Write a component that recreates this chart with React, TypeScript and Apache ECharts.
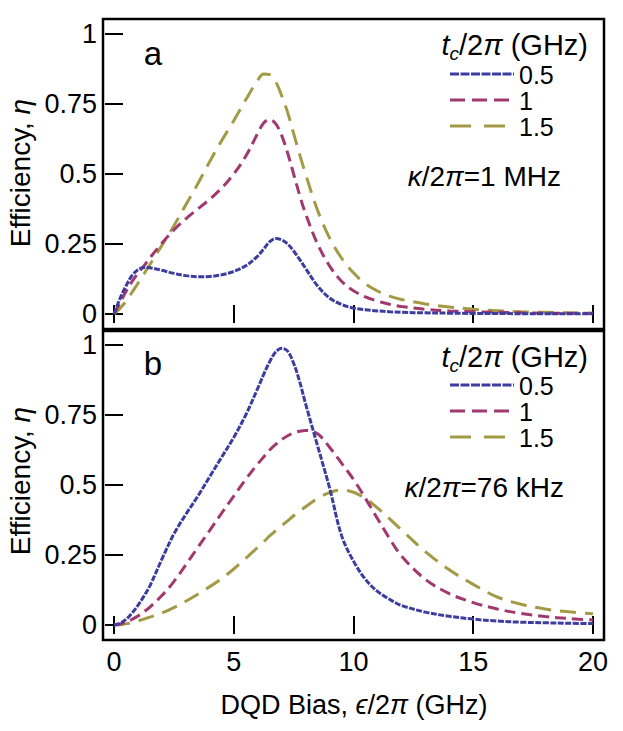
import React, { useEffect, useRef } from "react";
import * as echarts from "echarts";

// ---------- data ----------
const X_VALUES = [0, 0.25, 0.5, 0.75, 1, 1.25, 1.5, 2, 2.5, 3, 3.5, 4, 4.5, 5, 5.5, 6, 6.25, 6.5, 6.75, 7, 7.25, 7.5, 7.75, 8, 8.5, 9, 9.5, 10, 10.5, 11, 11.5, 12, 13, 14, 15, 16, 17, 18, 19, 20];

// panel a: kappa/2pi = 1 MHz
const A_TC05 = [0, 0.055, 0.1, 0.137, 0.158, 0.166, 0.165, 0.156, 0.145, 0.137, 0.133, 0.134, 0.14, 0.152, 0.172, 0.207, 0.232, 0.258, 0.27, 0.265, 0.25, 0.225, 0.195, 0.163, 0.1, 0.057, 0.034, 0.021, 0.015, 0.011, 0.008, 0.006, 0.004, 0.003, 0.002, 0.002, 0.001, 0.001, 0.001, 0.001];
const A_TC1 = [0, 0.04, 0.08, 0.115, 0.145, 0.172, 0.2, 0.253, 0.3, 0.34, 0.375, 0.41, 0.45, 0.5, 0.563, 0.645, 0.682, 0.695, 0.68, 0.638, 0.575, 0.5, 0.425, 0.358, 0.25, 0.172, 0.117, 0.083, 0.061, 0.046, 0.035, 0.027, 0.017, 0.011, 0.008, 0.006, 0.004, 0.003, 0.003, 0.002];
const A_TC15 = [0, 0.02, 0.045, 0.077, 0.11, 0.143, 0.177, 0.245, 0.315, 0.39, 0.465, 0.545, 0.62, 0.69, 0.765, 0.835, 0.857, 0.855, 0.83, 0.78, 0.72, 0.645, 0.57, 0.5, 0.37, 0.272, 0.2, 0.147, 0.108, 0.082, 0.064, 0.052, 0.036, 0.025, 0.017, 0.012, 0.008, 0.006, 0.004, 0.003];

// panel b: kappa/2pi = 76 kHz
const B_TC05 = [0, 0.006, 0.02, 0.042, 0.07, 0.103, 0.14, 0.235, 0.325, 0.395, 0.46, 0.53, 0.6, 0.67, 0.75, 0.845, 0.895, 0.94, 0.975, 0.988, 0.978, 0.935, 0.87, 0.79, 0.64, 0.49, 0.32, 0.228, 0.163, 0.12, 0.092, 0.07, 0.046, 0.031, 0.021, 0.014, 0.01, 0.008, 0.006, 0.005];
const B_TC1 = [0, 0.003, 0.01, 0.02, 0.032, 0.047, 0.064, 0.105, 0.155, 0.215, 0.277, 0.338, 0.4, 0.46, 0.52, 0.575, 0.6, 0.625, 0.645, 0.662, 0.676, 0.686, 0.692, 0.695, 0.683, 0.635, 0.578, 0.52, 0.452, 0.38, 0.31, 0.247, 0.163, 0.112, 0.08, 0.057, 0.041, 0.03, 0.023, 0.018];
const B_TC15 = [0, 0.001, 0.004, 0.009, 0.015, 0.021, 0.028, 0.043, 0.062, 0.085, 0.11, 0.137, 0.166, 0.2, 0.238, 0.277, 0.297, 0.318, 0.337, 0.355, 0.372, 0.39, 0.406, 0.422, 0.452, 0.473, 0.482, 0.474, 0.452, 0.418, 0.38, 0.34, 0.262, 0.197, 0.145, 0.1, 0.074, 0.057, 0.047, 0.04];

const X_TICKS = [0, 5, 10, 15, 20];
const Y_TICKS = [0, 0.25, 0.5, 0.75, 1];
const LEGEND_LABELS = ["0.5", "1", "1.5"];
const KAPPA_LABELS = ["1 MHz", "76 kHz"];

// ---------- styles ----------
const FONT_NAME = '"Liberation Sans", Arial, Helvetica, sans-serif';
const COLORS = ["#3d3da0", "#a1386f", "#a39a46"];
const DASHES = [[6, 1.5], [11, 6], [16, 9]];
const LEGEND_DASHES = [[9, 1.5], [15, 7], [21, 13]];

const zip = (xs: number[], ys: number[]) => xs.map((x, i) => [x, ys[i]]);

let measureCtx: CanvasRenderingContext2D | null = null;
function measure(text: string, size: number, italic: boolean) {
  if (!measureCtx) measureCtx = document.createElement("canvas").getContext("2d");
  measureCtx!.font = `${italic ? "italic " : ""}${size}px ${FONT_NAME}`;
  return measureCtx!.measureText(text).width;
}

// sequence of text pieces: [text, size, italic, dy], right-aligned at `right`
function pieces(parts: [string, number, boolean, number][], right: number, y: number) {
  const total = parts.reduce((s, p) => s + measure(p[0], p[1], p[2]), 0);
  let x = right - total;
  const out: any[] = [];
  parts.forEach(([t, size, it, dy]) => {
    out.push({
      type: "text", x, y: y + dy,
      style: {
        text: t, fontSize: size, fontStyle: it ? "italic" : "normal", fontFamily: FONT_NAME,
        fill: "#000", align: "left", verticalAlign: "middle",
      },
    });
    x += measure(t, size, it);
  });
  return out;
}

export default function App() {
  const ref = useRef<HTMLDivElement>(null);

  useEffect(() => {
    document.body.style.margin = "0";
    const chart = echarts.init(ref.current!, null, { renderer: "svg" });

    const GL = 103, GW = 501;
    const grids = [
      { top: 19, height: 310, ymax: 1.0536 },
      { top: 331, height: 309, ymax: 1.05 },
    ];
    const X_MIN = -0.459, X_MAX = 20.46, Y_MIN = -0.0536;

    const tick = { show: true, inside: true, length: 9, lineStyle: { color: "#000", width: 2 } };

    const xAxis: any[] = [];
    const yAxis: any[] = [];
    grids.forEach((g, gi) => {
      ["bottom", "top"].forEach((pos) => {
        xAxis.push({
          type: "value", gridIndex: gi, position: pos, min: X_MIN, max: X_MAX,
          axisLine: { show: false }, splitLine: { show: false },
          axisTick: { ...tick, customValues: X_TICKS },
          axisLabel: {
            show: gi === 1 && pos === "bottom", customValues: X_TICKS,
            fontSize: 27, color: "#000", fontFamily: FONT_NAME, margin: 8,
          },
        });
      });
      ["left", "right"].forEach((pos) => {
        yAxis.push({
          type: "value", gridIndex: gi, position: pos, min: Y_MIN, max: g.ymax,
          axisLine: { show: false }, splitLine: { show: false },
          axisTick: { ...tick, customValues: Y_TICKS },
          axisLabel: {
            show: pos === "left", customValues: Y_TICKS,
            fontSize: 27, color: "#000", fontFamily: FONT_NAME, margin: 6,
          },
        });
      });
    });

    const panelData = [
      [A_TC05, A_TC1, A_TC15],
      [B_TC05, B_TC1, B_TC15],
    ];
    const series: any[] = [];
    panelData.forEach((sets, gi) => {
      [2, 1, 0].forEach((si) => {
        series.push({
          type: "line", name: LEGEND_LABELS[si], xAxisIndex: gi * 2, yAxisIndex: gi * 2,
          data: zip(X_VALUES, sets[si]), showSymbol: false, symbol: "none", smooth: 0.35,
          lineStyle: { color: COLORS[si], width: 3, type: DASHES[si], cap: "butt" },
          z: 3 - si,
        });
      });
    });

    const LS = 28;
    const TS = 29;
    const graphic: any[] = [];
    const layouts = [
      { label: "a", ly: 53, title: 45, rows: [74, 100, 126], kappaRight: 561, kappaY: 176 },
      { label: "b", ly: 363, title: 357, rows: [385, 411, 437], kappaRight: 564, kappaY: 487 },
    ];
    layouts.forEach((L, gi) => {
      graphic.push({
        type: "text", x: 153, y: L.ly,
        style: { text: L.label, fontSize: 33, fontFamily: FONT_NAME, fill: "#000", align: "center", verticalAlign: "middle" },
      });
      graphic.push(...pieces([
        ["t", TS, true, 0],
        ["c", 19, true, 8],
        ["/2", TS, false, 0],
        ["π", TS, true, 0],
        [" (GHz)", TS, false, 0],
      ], 588, L.title));
      L.rows.forEach((ry, si) => {
        graphic.push({
          type: "line", shape: { x1: 450, y1: ry, x2: 514, y2: ry },
          style: { stroke: COLORS[si], lineWidth: 3, lineDash: LEGEND_DASHES[si] },
        });
        graphic.push({
          type: "text", x: 519, y: ry + 1,
          style: { text: LEGEND_LABELS[si], fontSize: 25, fontFamily: FONT_NAME, fill: "#000", align: "left", verticalAlign: "middle" },
        });
      });
      graphic.push(...pieces([
        ["κ", LS, true, 0],
        ["/2", LS, false, 0],
        ["π", LS, true, 0],
        ["=" + KAPPA_LABELS[gi], LS, false, 0],
      ], L.kappaRight, L.kappaY));
      graphic.push({
        type: "text", x: 20, y: gi === 0 ? 173 : 481, rotation: Math.PI / 2,
        style: {
          text: "Efficiency, {i|η}", fontSize: LS, fontFamily: FONT_NAME, fill: "#000",
          rich: { i: { fontStyle: "italic", fontSize: LS, fontFamily: FONT_NAME, fill: "#000" } },
          align: "center", verticalAlign: "middle",
        },
      });
    });
    graphic.push({
      type: "text", x: 354, y: 705,
      style: {
        text: "DQD Bias, {i|ϵ}/2{i|π} (GHz)", fontSize: 27, fontFamily: FONT_NAME, fill: "#000",
        rich: { i: { fontStyle: "italic", fontSize: 27, fontFamily: FONT_NAME, fill: "#000" } },
        align: "center", verticalAlign: "middle",
      },
    });

    chart.setOption({
      animation: false,
      backgroundColor: "#fff",
      grid: grids.map((g) => ({
        left: GL, top: g.top, width: GW, height: g.height, show: true,
        borderColor: "#000", borderWidth: 2.5, backgroundColor: "transparent", containLabel: false,
      })),
      xAxis, yAxis, series, graphic,
    });

    return () => chart.dispose();
  }, []);

  return <div ref={ref} style={{ width: 623, height: 731 }} />;
}
